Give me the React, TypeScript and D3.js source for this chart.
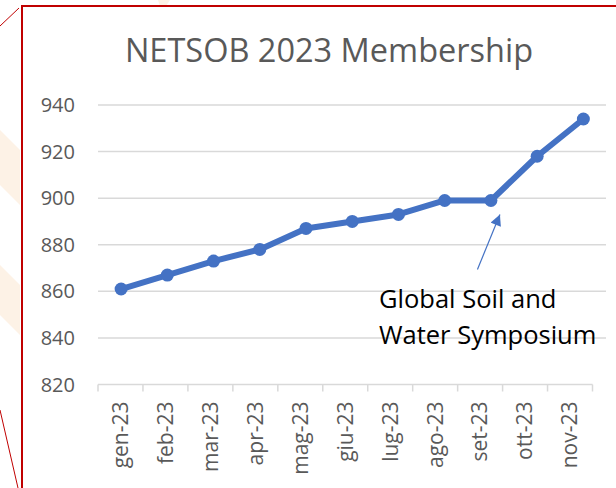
import React, { useEffect, useRef } from 'react';
import * as d3 from 'd3';

const months = ['gen-23', 'feb-23', 'mar-23', 'apr-23', 'mag-23', 'giu-23', 'lug-23', 'ago-23', 'set-23', 'ott-23', 'nov-23'];
const members = [861, 867, 873, 878, 887, 890, 893, 899, 899, 918, 934];
const yTicks = [820, 840, 860, 880, 900, 920, 940];
const annotationLines = ['Global Soil and', 'Water Symposium'];
const annotationMonth = 'set-23';

const BLUE = '#4472C4';
const GREY_TEXT = '#595959';
const GRID = '#d9d9d9';
const RED = '#c00000';

const W = 616;
const H = 488;

export default function App() {
  const ref = useRef<SVGSVGElement>(null);

  useEffect(() => {
    if (!ref.current) return;
    const svg = d3.select(ref.current);
    svg.selectAll('*').remove();

    // faint watermark shapes behind the chart frame
    const wm = svg.append('g').attr('fill', '#fdf2e6');
    wm.append('path').attr('d', 'M0,130 L20,150 L20,205 L0,185 Z');
    wm.append('path').attr('d', 'M0,265 L20,285 L20,335 L0,315 Z');
    wm.append('path').attr('d', 'M158,0 L170,0 L166,6 L160,6 Z');

    // red frame pieces
    svg.append('line').attr('x1', 0).attr('y1', 26).attr('x2', 19).attr('y2', 8)
      .attr('stroke', RED).attr('stroke-width', 1);
    svg.append('line').attr('x1', 0).attr('y1', 410).attr('x2', 18).attr('y2', 488)
      .attr('stroke', RED).attr('stroke-width', 1);
    svg.append('rect').attr('x', 22).attr('y', 6).attr('width', W).attr('height', H)
      .attr('fill', '#fff').attr('stroke', RED).attr('stroke-width', 2);

    const font = "'Open Sans', sans-serif";

    // scales
    const y = d3.scaleLinear().domain([820, 940]).range([384.5, 105]);
    const xPlot = d3.scaleBand().domain(months).range([98, 606.5]);
    const xAxis = d3.scaleBand().domain(months).range([98, 592.5]);
    const cx = (m: string) => (xPlot(m) ?? 0) + xPlot.bandwidth() / 2;

    // title
    svg.append('text')
      .attr('x', 329).attr('y', 62)
      .attr('text-anchor', 'middle')
      .attr('font-family', font).attr('font-size', 32.5)
      .attr('fill', GREY_TEXT)
      .text('NETSOB 2023 Membership');

    // gridlines
    svg.append('g').selectAll('line')
      .data(yTicks.filter(t => t > 820))
      .enter().append('line')
      .attr('x1', 98).attr('x2', 606)
      .attr('y1', d => y(d)).attr('y2', d => y(d))
      .attr('stroke', GRID).attr('stroke-width', 1.5);

    // y tick labels
    svg.append('g').selectAll('text')
      .data(yTicks)
      .enter().append('text')
      .attr('x', 75).attr('y', d => y(d))
      .attr('dy', '0.35em')
      .attr('text-anchor', 'end')
      .attr('font-family', font).attr('font-size', 20)
      .attr('fill', GREY_TEXT)
      .text(d => d);

    // x axis
    const ax = svg.append('g').attr('transform', `translate(0,${y(820)})`);
    ax.append('line').attr('x1', 98).attr('x2', 592.5).attr('stroke', GRID).attr('stroke-width', 1.5);
    const edges = months.map(m => xAxis(m) ?? 0).concat([592.5]);
    ax.selectAll('line.tk').data(edges).enter().append('line')
      .attr('class', 'tk')
      .attr('x1', d => d).attr('x2', d => d).attr('y1', 0).attr('y2', 7)
      .attr('stroke', GRID).attr('stroke-width', 1.5);
    ax.selectAll('text.lbl').data(months).enter().append('text')
      .attr('class', 'lbl')
      .attr('transform', d => `translate(${(xAxis(d) ?? 0) + xAxis.bandwidth() / 2},17) rotate(-90)`)
      .attr('dy', '0.35em')
      .attr('text-anchor', 'end')
      .attr('font-family', font).attr('font-size', 21)
      .attr('fill', GREY_TEXT)
      .text(d => d);

    // line + markers
    const pts = months.map((m, i) => [cx(m), y(members[i])] as [number, number]);
    svg.append('path')
      .attr('d', d3.line()(pts))
      .attr('fill', 'none').attr('stroke', BLUE).attr('stroke-width', 6)
      .attr('stroke-linejoin', 'round');
    svg.append('g').selectAll('circle').data(pts).enter().append('circle')
      .attr('cx', d => d[0]).attr('cy', d => d[1]).attr('r', 6.5)
      .attr('fill', BLUE);

    // annotation arrow
    svg.append('defs').append('marker')
      .attr('id', 'arrowHead')
      .attr('viewBox', '0 0 10 10')
      .attr('refX', 10).attr('refY', 5)
      .attr('markerWidth', 12).attr('markerHeight', 11)
      .attr('markerUnits', 'userSpaceOnUse')
      .attr('orient', 'auto')
      .append('path').attr('d', 'M0,0 L10,5 L0,10 Z').attr('fill', BLUE);

    const ai = months.indexOf(annotationMonth);
    const tipX = cx(annotationMonth) + 9;
    const tipY = y(members[ai]) + 14;
    svg.append('line')
      .attr('x1', tipX - 22.5).attr('y1', tipY + 55)
      .attr('x2', tipX).attr('y2', tipY)
      .attr('stroke', BLUE).attr('stroke-width', 1.2)
      .attr('marker-end', 'url(#arrowHead)');

    svg.append('g').selectAll('text').data(annotationLines).enter().append('text')
      .attr('x', 379)
      .attr('y', (d, i) => y(860) + 17 + i * 36)
      .attr('font-family', font).attr('font-size', 25.5)
      .attr('fill', '#000')
      .text(d => d);
  }, []);

  return (
    <div style={{ position: 'absolute', left: 0, top: 0 }}>
      <svg ref={ref} width={W} height={H} style={{ display: 'block' }} />
    </div>
  );
}
